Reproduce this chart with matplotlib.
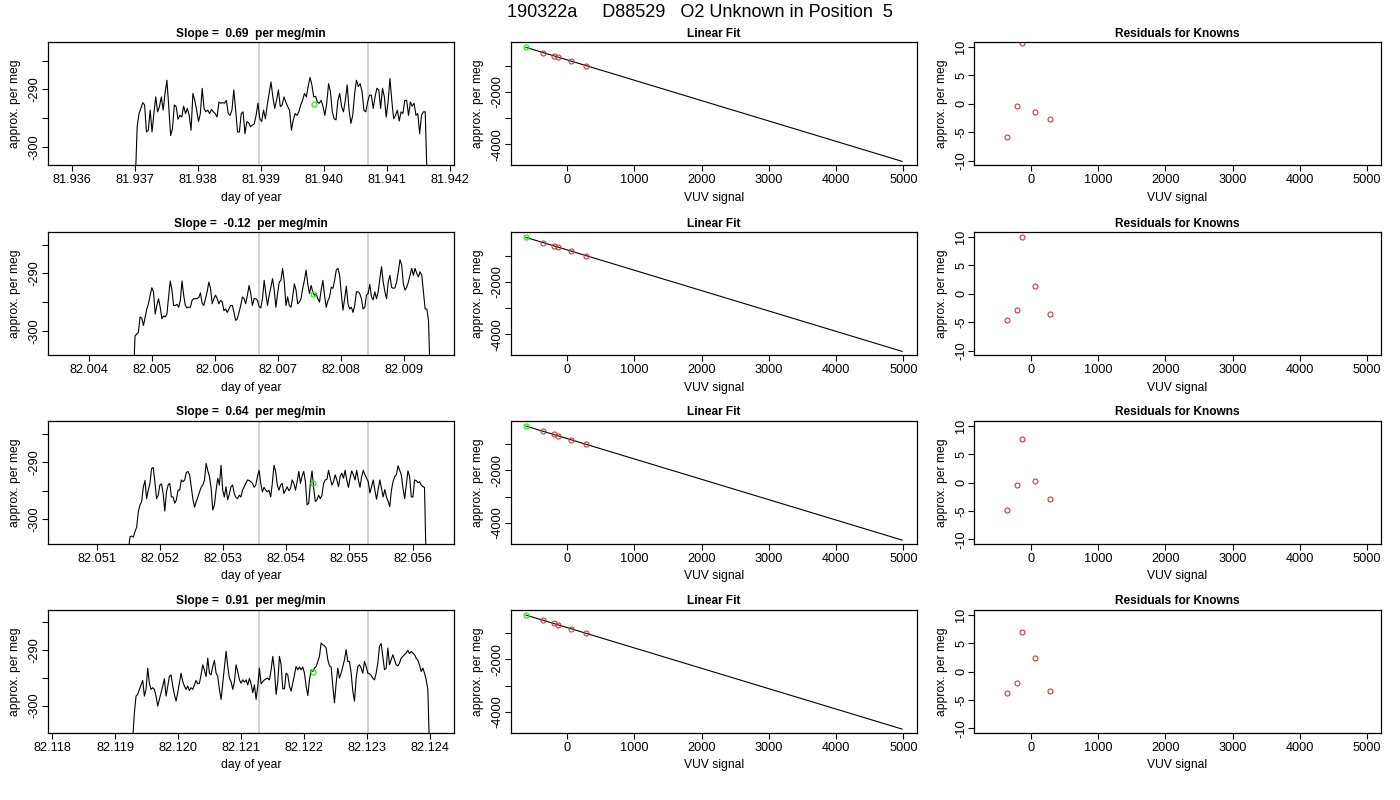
import numpy as np
import matplotlib
matplotlib.use("Agg")
import matplotlib.pyplot as plt
from matplotlib.ticker import FixedLocator, MultipleLocator, FormatStrFormatter

plt.rcParams['font.family'] = ['Liberation Sans', 'DejaVu Sans']
plt.rcParams['axes.unicode_minus'] = False

main_title = "190322a     D88529   O2 Unknown in Position  5"
slopes = ["0.69", "-0.12", "0.64", "0.91"]

# ---- time series (day of year, approx. per meg) ----
t_start = [81.93700, 82.004703, 82.051502, 82.119276]
t_end = [81.94163, 82.009407, 82.056216, 82.123990]

series1 = [-306, -296.5, -294.2, -293.3, -292.3, -292.7, -297.4, -297.1, -293.6, -297.4, -294.2, -291.3, -293.9,
           -293.0, -291.3, -293.6, -290.7, -288.4, -293.0, -298.0, -296.8, -292.7, -293.0, -295.2, -294.5, -294.8,
           -292.9, -294.2, -293.3, -294.5, -297.1, -290.7, -291.9, -293.6, -295.6, -294.2, -289.8, -293.3, -293.9,
           -293.6, -294.2, -293.5, -293.9, -294.2, -294.8, -292.2, -292.4, -292.3, -292.4, -291.9, -294.2, -294.5,
           -293.6, -290.1, -293.6, -297.4, -297.4, -294.2, -293.9, -297.7, -295.6, -295.8, -296.5, -296.2, -296.0,
           -294.5, -292.4, -295.1, -295.6, -293.6, -295.1, -292.7, -290.7, -288.7, -291.3, -293.3, -291.9, -290.1,
           -293.0, -292.7, -291.3, -292.2, -293.0, -293.6, -297.1, -295.3, -294.2, -294.5, -293.9, -292.7, -291.9,
           -290.7, -291.3, -289.5, -287.9, -289.2, -291.3, -291.2, -292.2, -292.4, -291.9, -293.0, -294.5, -292.4,
           -289.0, -290.4, -293.9, -295.1, -295.3, -291.9, -290.7, -293.0, -293.9, -291.9, -289.2, -293.6, -295.9,
           -294.5, -290.7, -288.4, -289.5, -289.0, -290.4, -293.6, -293.9, -292.2, -291.0, -291.0, -293.3, -291.3,
           -289.8, -290.1, -293.3, -289.8, -291.3, -294.8, -292.2, -288.1, -291.9, -295.1, -294.5, -293.6, -295.5,
           -293.9, -294.2, -291.9, -291.9, -294.5, -292.2, -292.9, -292.4, -294.5, -294.2, -297.7, -294.5, -293.9,
           -293.9, -306]

series2 = [-308, -300.9, -300.6, -300.3, -297.6, -297.8, -299.1, -297.6, -296.2, -295.3, -293.8, -292.5, -293.2,
           -297.1, -295.6, -294.4, -295.9, -297.9, -297.4, -297.6, -297.1, -294.1, -291.3, -292.9, -295.6, -295.6,
           -295.4, -295.9, -294.7, -291.3, -293.8, -295.6, -296.0, -295.9, -295.9, -294.7, -294.4, -294.4, -294.4,
           -294.2, -293.4, -295.2, -295.6, -294.4, -293.2, -291.5, -292.6, -295.3, -294.4, -293.8, -294.4, -295.3,
           -294.7, -295.0, -296.5, -296.2, -296.8, -296.2, -295.6, -295.6, -296.8, -298.2, -297.9, -296.8, -295.6,
           -294.1, -294.4, -295.3, -293.8, -292.1, -293.5, -295.6, -294.4, -294.4, -294.7, -295.8, -296.0, -294.4,
           -291.2, -293.5, -295.6, -293.8, -292.4, -290.9, -292.9, -295.9, -293.5, -291.5, -291.2, -289.1, -291.5,
           -295.6, -294.1, -295.6, -295.9, -294.1, -291.8, -292.9, -295.3, -295.0, -294.4, -292.6, -291.2, -289.4,
           -291.8, -293.5, -292.1, -293.2, -293.8, -293.5, -294.4, -295.0, -292.9, -291.2, -293.8, -295.9, -294.8,
           -294.1, -292.4, -292.6, -291.2, -289.4, -289.1, -290.3, -293.5, -296.4, -294.4, -292.2, -295.3, -296.2,
           -295.9, -296.8, -295.6, -293.2, -293.2, -293.5, -294.4, -296.2, -295.9, -293.8, -293.5, -291.9, -294.1,
           -294.6, -293.2, -294.4, -293.2, -290.9, -288.8, -291.5, -293.2, -294.4, -291.5, -290.3, -292.4, -292.6,
           -292.5, -291.5, -289.7, -287.6, -288.5, -291.8, -292.9, -292.4, -291.5, -290.3, -289.1, -290.3, -289.1,
           -290.0, -290.6, -289.7, -290.3, -293.2, -296.2, -296.2, -298.2, -308]

series3 = [-305.5, -303.1, -303.0, -303.2, -302.2, -301.4, -298.7, -297.5, -296.9, -294.4, -293.2, -296.4, -294.9,
           -293.7, -291.1, -290.9, -293.4, -296.4, -295.8, -294.0, -293.8, -295.5, -298.6, -295.2, -294.0, -293.7,
           -296.1, -296.1, -297.2, -296.6, -294.9, -294.9, -293.1, -293.4, -293.1, -291.8, -291.6, -292.2, -294.3,
           -296.5, -297.9, -296.9, -296.1, -295.2, -294.4, -294.0, -293.1, -290.2, -291.5, -292.5, -294.6, -298.4,
           -297.5, -294.9, -292.8, -294.0, -290.5, -294.9, -296.1, -294.3, -296.6, -295.6, -294.3, -294.0, -295.5,
           -296.2, -296.4, -295.8, -296.1, -294.9, -294.3, -293.7, -293.1, -293.2, -293.4, -293.7, -294.4, -294.0,
           -292.5, -291.4, -293.7, -295.2, -294.4, -294.9, -295.2, -294.9, -296.1, -293.7, -290.5, -291.6, -294.0,
           -294.9, -294.0, -293.7, -295.5, -294.9, -294.3, -295.0, -294.6, -293.1, -293.7, -294.9, -293.4, -291.6,
           -293.7, -292.4, -291.6, -293.4, -297.5, -297.2, -293.7, -291.5, -294.6, -296.9, -296.6, -295.8, -296.4,
           -295.8, -293.7, -293.1, -293.0, -291.4, -292.8, -294.0, -293.4, -292.2, -293.1, -294.3, -292.5, -291.9,
           -292.8, -291.4, -293.1, -294.4, -292.8, -291.5, -292.2, -293.1, -291.4, -293.1, -294.4, -292.5, -291.4,
           -292.2, -292.8, -293.4, -295.4, -294.3, -293.1, -294.9, -296.5, -294.8, -293.1, -294.6, -296.1, -294.8,
           -296.1, -296.9, -297.8, -294.9, -293.4, -292.5, -292.2, -290.6, -291.4, -292.2, -294.6, -296.4, -294.0,
           -291.5, -292.5, -296.1, -296.1, -293.1, -293.2, -293.6, -293.4, -294.0, -294.3, -294.4, -308]

series4 = [-306, -301.3, -298.3, -298.0, -297.1, -296.3, -295.5, -298.3, -297.1, -293.3, -296.0, -297.1, -296.8,
           -297.1, -298.3, -300.1, -298.9, -297.7, -296.5, -295.2, -298.3, -296.5, -294.8, -294.5, -296.5, -298.0,
           -299.2, -297.7, -296.0, -294.2, -295.7, -296.5, -297.1, -296.5, -297.3, -296.8, -297.1, -296.3, -295.5,
           -296.1, -296.0, -294.5, -292.7, -293.7, -294.8, -291.5, -294.2, -294.5, -293.0, -291.9, -294.2, -294.8,
           -297.1, -298.9, -296.0, -293.0, -290.3, -293.0, -295.1, -295.7, -297.1, -295.7, -292.7, -293.9, -295.4,
           -296.0, -295.4, -295.8, -295.4, -296.3, -295.1, -296.1, -297.7, -296.3, -298.9, -296.5, -293.3, -296.1,
           -295.7, -295.4, -295.2, -295.1, -295.4, -293.6, -291.2, -293.6, -298.0, -295.7, -291.2, -292.7, -297.0,
           -297.0, -294.2, -294.5, -296.5, -297.4, -296.0, -294.5, -293.0, -293.6, -293.1, -293.6, -293.1, -294.2,
           -296.5, -298.2, -295.4, -293.6, -293.9, -293.3, -293.0, -292.1, -291.2, -288.8, -289.1, -289.3, -289.7,
           -291.8, -292.9, -293.1, -296.5, -299.5, -296.0, -293.3, -295.1, -294.2, -293.0, -291.8, -290.0, -292.1,
           -292.1, -294.2, -297.4, -299.2, -295.1, -293.0, -292.7, -293.3, -294.2, -292.1, -293.0, -294.2, -294.3,
           -294.6, -295.1, -295.4, -294.2, -292.4, -289.4, -288.9, -291.2, -293.6, -293.3, -289.7, -292.7, -291.8,
           -290.9, -291.8, -292.7, -292.9, -292.4, -291.5, -291.2, -290.9, -290.6, -290.1, -290.7, -290.3, -290.6,
           -290.9, -291.5, -291.9, -292.7, -293.9, -293.3, -294.2, -295.4, -297.1, -308]

series = [series1, series2, series3, series4]

unknown_day = [81.93983, 82.007557, 82.054432, 82.122147]
unknown_val = [-292.5, -293.5, -293.6, -293.9]
gray_lines = [(81.93897, 81.94070), (82.006690, 82.008424), (82.053566, 82.055303), (82.121279, 82.123016)]
ts_xlim = [(81.93561, 81.94206), (82.003345, 82.009788), (82.050224, 82.056660), (82.117926, 82.124382)]
ts_ylim = [(-303.2, -281.8), (-304.3, -282.8), (-304.4, -282.7), (-304.9, -282.9)]

# ---- linear fit (VUV signal vs approx. per meg) ----
known_vuv = [-355, -200, -130, 58, 280]
known_fit = [-505, -628, -685, -830, -1000]
unknown_vuv = -612
unknown_fit = -310
fit_line_x = [-612, 4980]
fit_line_y = [-310, -4650]

# ---- residuals for knowns ----
residuals = [
    [-5.9, -0.4, 10.6, -1.5, -2.6],
    [-4.6, -2.9, 9.9, 1.3, -3.5],
    [-4.8, -0.4, 7.7, 0.2, -2.9],
    [-3.8, -2.1, 7.0, 2.3, -3.5],
]

W, H = 1400, 800
fig = plt.figure(figsize=(14, 8), dpi=100)

col_left = [47.7, 510.7, 974.3]
col_w = 406.5
row_top = [42.3, 232.3, 421.0, 610.0]
row_h = 123.0

TS = 9.2
red = '#c83c3c'
green = '#22ee22'


def make_ax(c, r):
    l = col_left[c] / W
    b = 1 - (row_top[r] + row_h) / H
    ax = fig.add_axes([l, b, col_w / W, row_h / H])
    for s in ax.spines.values():
        s.set_linewidth(0.9)
        s.set_color('black')
    ax.tick_params(direction='out', length=4, width=0.8, labelsize=TS, pad=2.5)
    ax.tick_params(axis='y', labelrotation=90, pad=1.2)
    return ax


def style_labels(ax, xlabel, ylabel):
    ax.set_xlabel(xlabel, fontsize=8.7)
    ax.set_ylabel(ylabel, fontsize=8.7)
    ax.xaxis.set_label_coords(0.5, -0.215)
    ax.yaxis.set_label_coords(-0.08, 0.5)
    ax.yaxis.label.set_va('center')
    for lab in ax.get_yticklabels():
        lab.set_va('center')


for r in range(4):
    # left: time series
    ax = make_ax(0, r)
    vals = series[r]
    t = np.linspace(t_start[r], t_end[r], len(vals))
    for g in gray_lines[r]:
        ax.axvline(g, color='#cfcfcf', lw=1.3, zorder=1)
    ax.plot(t, vals, color='black', lw=0.8, zorder=2)
    ax.plot([unknown_day[r]], [unknown_val[r]], 'o', mfc='none', mec=green, ms=3.6, mew=0.9, zorder=3)
    ax.set_xlim(*ts_xlim[r])
    ax.set_ylim(*ts_ylim[r])
    ax.xaxis.set_major_locator(MultipleLocator(0.001))
    ax.xaxis.set_major_formatter(FormatStrFormatter('%.3f'))
    ax.yaxis.set_major_locator(FixedLocator([-285, -290, -295, -300]))
    ax.set_yticklabels(['', '-290', '', '-300'])
    ax.set_title(f"Slope =  {slopes[r]}  per meg/min", fontsize=8.6, fontweight='bold', pad=4)
    style_labels(ax, 'day of year', 'approx. per meg')

    # middle: linear fit
    ax = make_ax(1, r)
    ax.plot(fit_line_x, fit_line_y, color='black', lw=0.8, zorder=1)
    ax.plot(known_vuv, known_fit, 'o', mfc='none', mec=red, ms=3.6, mew=0.8, zorder=2)
    ax.plot([unknown_vuv], [unknown_fit], 'o', mfc='none', mec=green, ms=3.6, mew=0.9, zorder=3)
    ax.set_xlim(-840, 5205)
    ax.set_ylim(-4800, -115)
    ax.xaxis.set_major_locator(FixedLocator([0, 1000, 2000, 3000, 4000, 5000]))
    ax.set_xticklabels(['0', '1000', '2000', '3000', '4000', '5000'])
    ax.yaxis.set_major_locator(FixedLocator([-1000, -2000, -3000, -4000]))
    ax.set_yticklabels(['', '-2000', '', '-4000'])
    ax.set_title("Linear Fit", fontsize=8.6, fontweight='bold', pad=4)
    style_labels(ax, 'VUV signal', 'approx. per meg')

    # right: residuals
    ax = make_ax(2, r)
    ax.plot(known_vuv, residuals[r], 'o', mfc='none', mec=red, ms=3.6, mew=0.8)
    ax.set_xlim(-840, 5205)
    ax.set_ylim(-10.8, 10.8)
    ax.xaxis.set_major_locator(FixedLocator([0, 1000, 2000, 3000, 4000, 5000]))
    ax.set_xticklabels(['0', '1000', '2000', '3000', '4000', '5000'])
    ax.yaxis.set_major_locator(FixedLocator([-10, -5, 0, 5, 10]))
    ax.set_yticklabels(['-10', '-5', '0', '5', '10'])
    ax.set_title("Residuals for Knowns", fontsize=8.6, fontweight='bold', pad=4)
    style_labels(ax, 'VUV signal', 'approx. per meg')

fig.text(0.5, 1 - 12.5 / H, main_title, ha='center', va='center', fontsize=13)

fig.savefig('out.png', dpi=100)
